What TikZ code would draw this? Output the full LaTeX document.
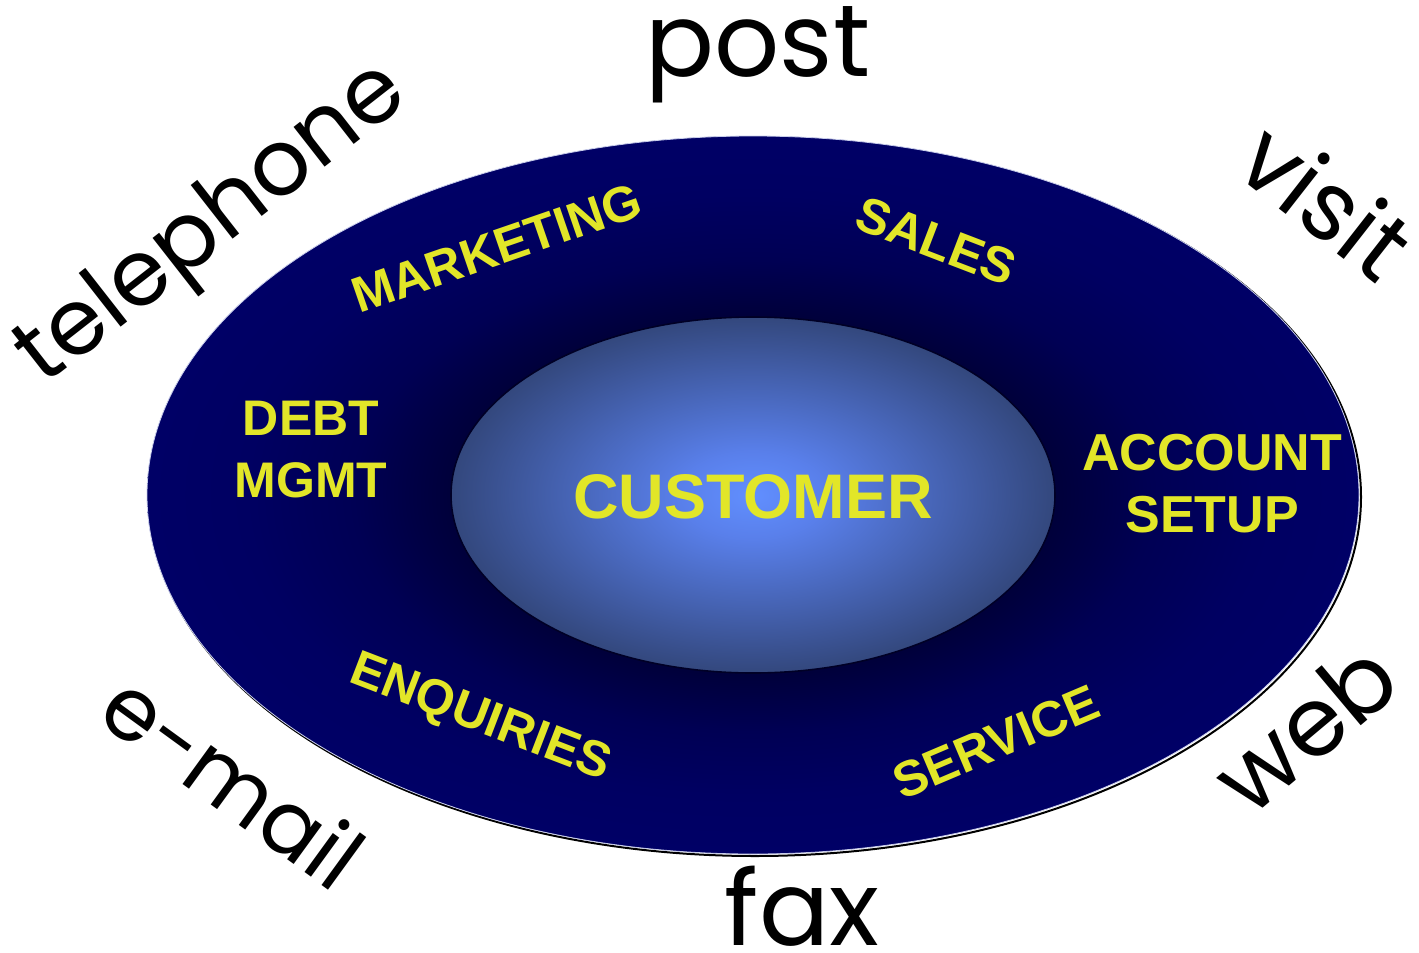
\documentclass[tikz,border=0pt]{standalone}
\usepackage{fontspec}
\usepackage{tikz}
\newfontfamily\wordfont{Poppins}
\newfontfamily\deptfont{Liberation Sans}
\definecolor{deptyellow}{RGB}{226,230,40}
\definecolor{ringedge}{RGB}{200,205,235}

% shading of the ring and of the core (edge of the ellipse is at 25bp)
\pgfdeclareradialshading{ringshade}{\pgfpoint{0bp}{0bp}}{rgb(0bp)=(0,0,0.23); rgb(12.5bp)=(0,0,0.23); rgb(16.5bp)=(0,0,0.33); rgb(21bp)=(0,0,0.385); rgb(25bp)=(0,0,0.4); rgb(50bp)=(0,0,0.4)}
\pgfdeclareradialshading{coreshade}{\pgfpoint{0bp}{0bp}}{rgb(0bp)=(0.38,0.56,1); rgb(6bp)=(0.35,0.5,0.92); rgb(25bp)=(0.2,0.28,0.49); rgb(50bp)=(0.2,0.28,0.49)}

\tikzset{
  dept/.style={text=deptyellow, font=\deptfont\bfseries\fontsize{50}{62}\selectfont, align=center},
  channel/.style={text=black, inner sep=0pt, font=\wordfont\fontsize{96}{110}\selectfont}
}

\begin{document}
\begin{tikzpicture}[x=1pt,y=-1pt]
      \useasboundingbox (0,0) rectangle (1419,953);

      % centre of both ellipses
      \coordinate (mid) at (753,495);

      %outer ring with its shadow
      \draw[black, line width=2] ([shift={(2,2)}]mid) ellipse [x radius=606, y radius=359];
      \shade[shading=ringshade] (mid) ellipse [x radius=606, y radius=359];
      \draw[ringedge, line width=0.8] (mid) ellipse [x radius=606, y radius=359];

      %inner core
      \shade[shading=coreshade] (mid) ellipse [x radius=302, y radius=178];
      \draw[black!85!blue, line width=1.6] (mid) ellipse [x radius=302, y radius=178];

      \node[dept, font=\deptfont\bfseries\fontsize{63}{70}\selectfont] (customer) at (753,497) {CUSTOMER};

      % departments in the ring
      \node[dept, rotate=19] (marketing) at (497,248) {MARKETING};
      \node[dept, rotate=-21] (sales) at (936,241) {SALES};
      \node[dept] (debt) at (311,450) {DEBT\\MGMT};
      \node[dept, font=\deptfont\bfseries\fontsize{52}{62}\selectfont] (account) at (1212,484) {ACCOUNT\\SETUP};
      \node[dept, rotate=-21] (enquiries) at (480,719) {ENQUIRIES};
      \node[dept, rotate=23] (service) at (996,742) {SERVICE};

      % channels round the outside
      \node[channel, font=\wordfont\fontsize{102}{110}\selectfont] (post) at (758,55) {post};
      \node[channel, font=\wordfont\fontsize{104}{110}\selectfont, anchor=base] (fax) at (802,945) {fax};
      \node[channel, font=\wordfont\fontsize{92}{110}\selectfont, rotate=38] (telephone) at (214,226) {telephone};
      \node[channel, rotate=-38] (visit) at (1327,200) {visit};
      \node[channel, rotate=40] (web) at (1305,727) {web};
      \node[channel, font=\wordfont\fontsize{88}{110}\selectfont, rotate=-36] (email) at (234,780) {e-mail};
\end{tikzpicture}
\end{document}
